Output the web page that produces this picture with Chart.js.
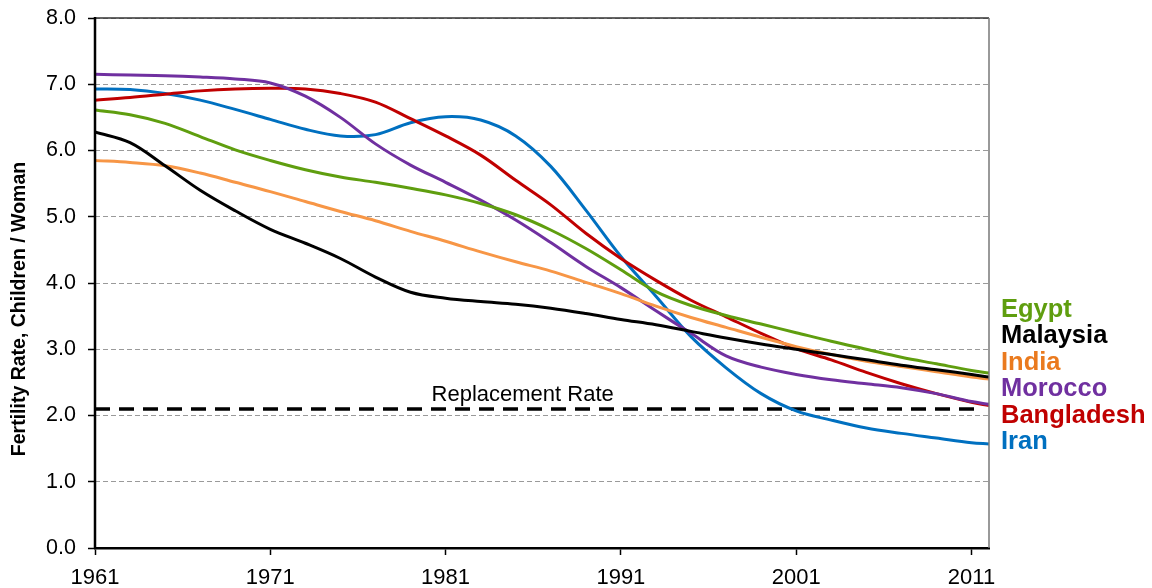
<!DOCTYPE html>
<html lang="en">
<head>
    <meta charset="UTF-8">
    <title>Fertility Rate</title>
    <script src="https://cdn.jsdelivr.net/npm/chart.js"></script>
    <style>
        body {
            margin: 0;
            background-color: #fff;
        }

        .chart-box {
            width: 1152px;
            height: 588px;
        }
    </style>
</head>
<body>
    <div class="chart-box">
        <canvas id="fertilityChart"></canvas>
    </div>
    <script>
        // Data
        const years = [1961, 1963, 1965, 1967, 1969, 1971, 1973, 1975, 1977, 1979, 1981, 1983, 1985, 1987,
            1989, 1991, 1993, 1995, 1997, 1999, 2001, 2003, 2005, 2007, 2009, 2011, 2012];
        const egypt = [6.61, 6.54, 6.41, 6.21, 6.01, 5.85, 5.71, 5.60, 5.52, 5.43, 5.33, 5.20, 5.03, 4.80,
            4.52, 4.20, 3.87, 3.66, 3.51, 3.38, 3.25, 3.12, 3.00, 2.88, 2.78, 2.68, 2.64];
        const malaysia = [6.28, 6.12, 5.77, 5.40, 5.09, 4.81, 4.60, 4.37, 4.09, 3.86, 3.77, 3.72, 3.68, 3.62,
            3.54, 3.45, 3.37, 3.27, 3.17, 3.08, 3.00, 2.92, 2.84, 2.76, 2.69, 2.62, 2.58];
        const india = [5.85, 5.82, 5.77, 5.66, 5.52, 5.38, 5.23, 5.08, 4.94, 4.78, 4.63, 4.47, 4.32, 4.18,
            4.01, 3.84, 3.65, 3.48, 3.33, 3.18, 3.04, 2.92, 2.82, 2.74, 2.66, 2.58, 2.55];
        const morocco = [7.15, 7.14, 7.13, 7.11, 7.08, 7.02, 6.82, 6.50, 6.10, 5.78, 5.52, 5.25, 4.95, 4.61,
            4.25, 3.93, 3.58, 3.24, 2.90, 2.73, 2.62, 2.54, 2.48, 2.42, 2.33, 2.21, 2.17];
        const bangladesh = [6.76, 6.80, 6.85, 6.90, 6.93, 6.94, 6.93, 6.86, 6.73, 6.48, 6.22, 5.93, 5.55, 5.18,
            4.75, 4.37, 4.04, 3.74, 3.49, 3.24, 3.01, 2.84, 2.65, 2.48, 2.33, 2.20, 2.15];
        const iran = [6.93, 6.92, 6.86, 6.76, 6.62, 6.47, 6.32, 6.22, 6.24, 6.42, 6.51, 6.46, 6.22, 5.76,
            5.10, 4.40, 3.80, 3.19, 2.72, 2.33, 2.07, 1.93, 1.81, 1.73, 1.66, 1.59, 1.57];

        const replacementRate = 2.1;
        const replacementSpan = [1961, 2011.6];

        const xTickYears = [1961, 1971, 1981, 1991, 2001, 2011];
        const xTickLabels = ['1961', '1971', '1981', '1991', '2001', '2011'];
        const xMin = 1961;
        const xMax = 2012;

        const yTitle = 'Fertility Rate, Children / Woman';

        const series = [
            { name: 'Egypt', values: egypt, line: '#5f9e0f', text: '#5f9e0f' },
            { name: 'Malaysia', values: malaysia, line: '#000000', text: '#000000' },
            { name: 'India', values: india, line: '#f79646', text: '#ea7a1e' },
            { name: 'Morocco', values: morocco, line: '#7030a0', text: '#7030a0' },
            { name: 'Bangladesh', values: bangladesh, line: '#c00000', text: '#c00000' },
            { name: 'Iran', values: iran, line: '#0070c0', text: '#0070c0' }
        ];

        const datasets = series.map(s => ({
            label: s.name,
            data: years.map((yr, i) => ({ x: yr, y: s.values[i] })),
            borderColor: s.line,
            borderWidth: 3,
            pointRadius: 0,
            tension: 0.35,
            fill: false
        }));

        datasets.push({
            label: 'Replacement Rate',
            data: replacementSpan.map(yr => ({ x: yr, y: replacementRate })),
            borderColor: '#000',
            borderWidth: 3.5,
            borderDash: [15, 9],
            pointRadius: 0,
            fill: false
        });

        const FONT = '"Liberation Sans", Arial, sans-serif';

        // frame lines and text labels
        const extras = {
            id: 'extras',
            afterDraw(chart) {
                const { ctx, chartArea: a, scales } = chart;
                ctx.save();
                ctx.setLineDash([]);
                ctx.lineWidth = 1.5;
                ctx.strokeStyle = '#333';
                ctx.beginPath();
                ctx.moveTo(a.left, a.top);
                ctx.lineTo(a.right, a.top);
                ctx.stroke();
                ctx.strokeStyle = '#777';
                ctx.beginPath();
                ctx.moveTo(a.right, a.top);
                ctx.lineTo(a.right, a.bottom);
                ctx.stroke();
                ctx.lineWidth = 2.5;
                ctx.strokeStyle = '#000';
                ctx.beginPath();
                ctx.moveTo(a.left, a.top - 1);
                ctx.lineTo(a.left, a.bottom + 1);
                ctx.stroke();

                // replacement rate caption
                ctx.fillStyle = '#000';
                ctx.font = '22px ' + FONT;
                ctx.textBaseline = 'bottom';
                ctx.textAlign = 'left';
                ctx.fillText('Replacement Rate', scales.x.getPixelForValue(1980.2), scales.y.getPixelForValue(replacementRate) - 3);

                // country names on the right
                ctx.font = 'bold 25.5px ' + FONT;
                ctx.textBaseline = 'middle';
                series.forEach((s, i) => {
                    ctx.fillStyle = s.text;
                    ctx.fillText(s.name, a.right + 12, scales.y.getPixelForValue(3.6 - 0.4 * i));
                });

                // y axis title
                ctx.fillStyle = '#000';
                ctx.font = 'bold 19.5px ' + FONT;
                ctx.textAlign = 'center';
                ctx.translate(20, 309);
                ctx.rotate(-Math.PI / 2);
                ctx.fillText(yTitle, 0, 0);
                ctx.restore();
            }
        };

        const ctx = document.getElementById('fertilityChart').getContext('2d');
        new Chart(ctx, {
            type: 'line',
            data: { datasets: datasets },
            plugins: [extras],
            options: {
                responsive: true,
                maintainAspectRatio: false,
                animation: false,
                layout: { padding: { top: 18, right: 163, left: 0, bottom: 0 } },
                plugins: {
                    legend: { display: false },
                    tooltip: { enabled: false }
                },
                scales: {
                    x: {
                        type: 'linear',
                        min: xMin,
                        max: xMax,
                        afterBuildTicks(scale) {
                            scale.ticks = xTickYears.map(v => ({ value: v }));
                        },
                        afterFit(scale) {
                            scale.height = 40;
                        },
                        ticks: {
                            color: '#000',
                            padding: 10,
                            maxRotation: 0,
                            font: { size: 22, family: FONT },
                            callback: (v) => xTickLabels[xTickYears.indexOf(v)]
                        },
                        grid: {
                            drawOnChartArea: false,
                            drawTicks: true,
                            tickLength: 7,
                            tickColor: '#000',
                            tickWidth: 1.5
                        },
                        border: { color: '#000', width: 2.5 }
                    },
                    y: {
                        min: 0,
                        max: 8,
                        afterFit(scale) {
                            scale.width = 95;
                            scale.paddingTop = 0;
                            scale.paddingBottom = 0;
                        },
                        ticks: {
                            stepSize: 1,
                            color: '#000',
                            padding: 12,
                            font: { size: 21.5, family: FONT },
                            callback: (v) => v.toFixed(1)
                        },
                        grid: {
                            color: '#9a9a9a',
                            lineWidth: 1,
                            tickLength: 7,
                            tickColor: '#000',
                            tickWidth: 1.5,
                            tickBorderDash: []
                        },
                        border: { display: false, dash: [5, 3] }
                    }
                }
            }
        });
    </script>
</body>
</html>
